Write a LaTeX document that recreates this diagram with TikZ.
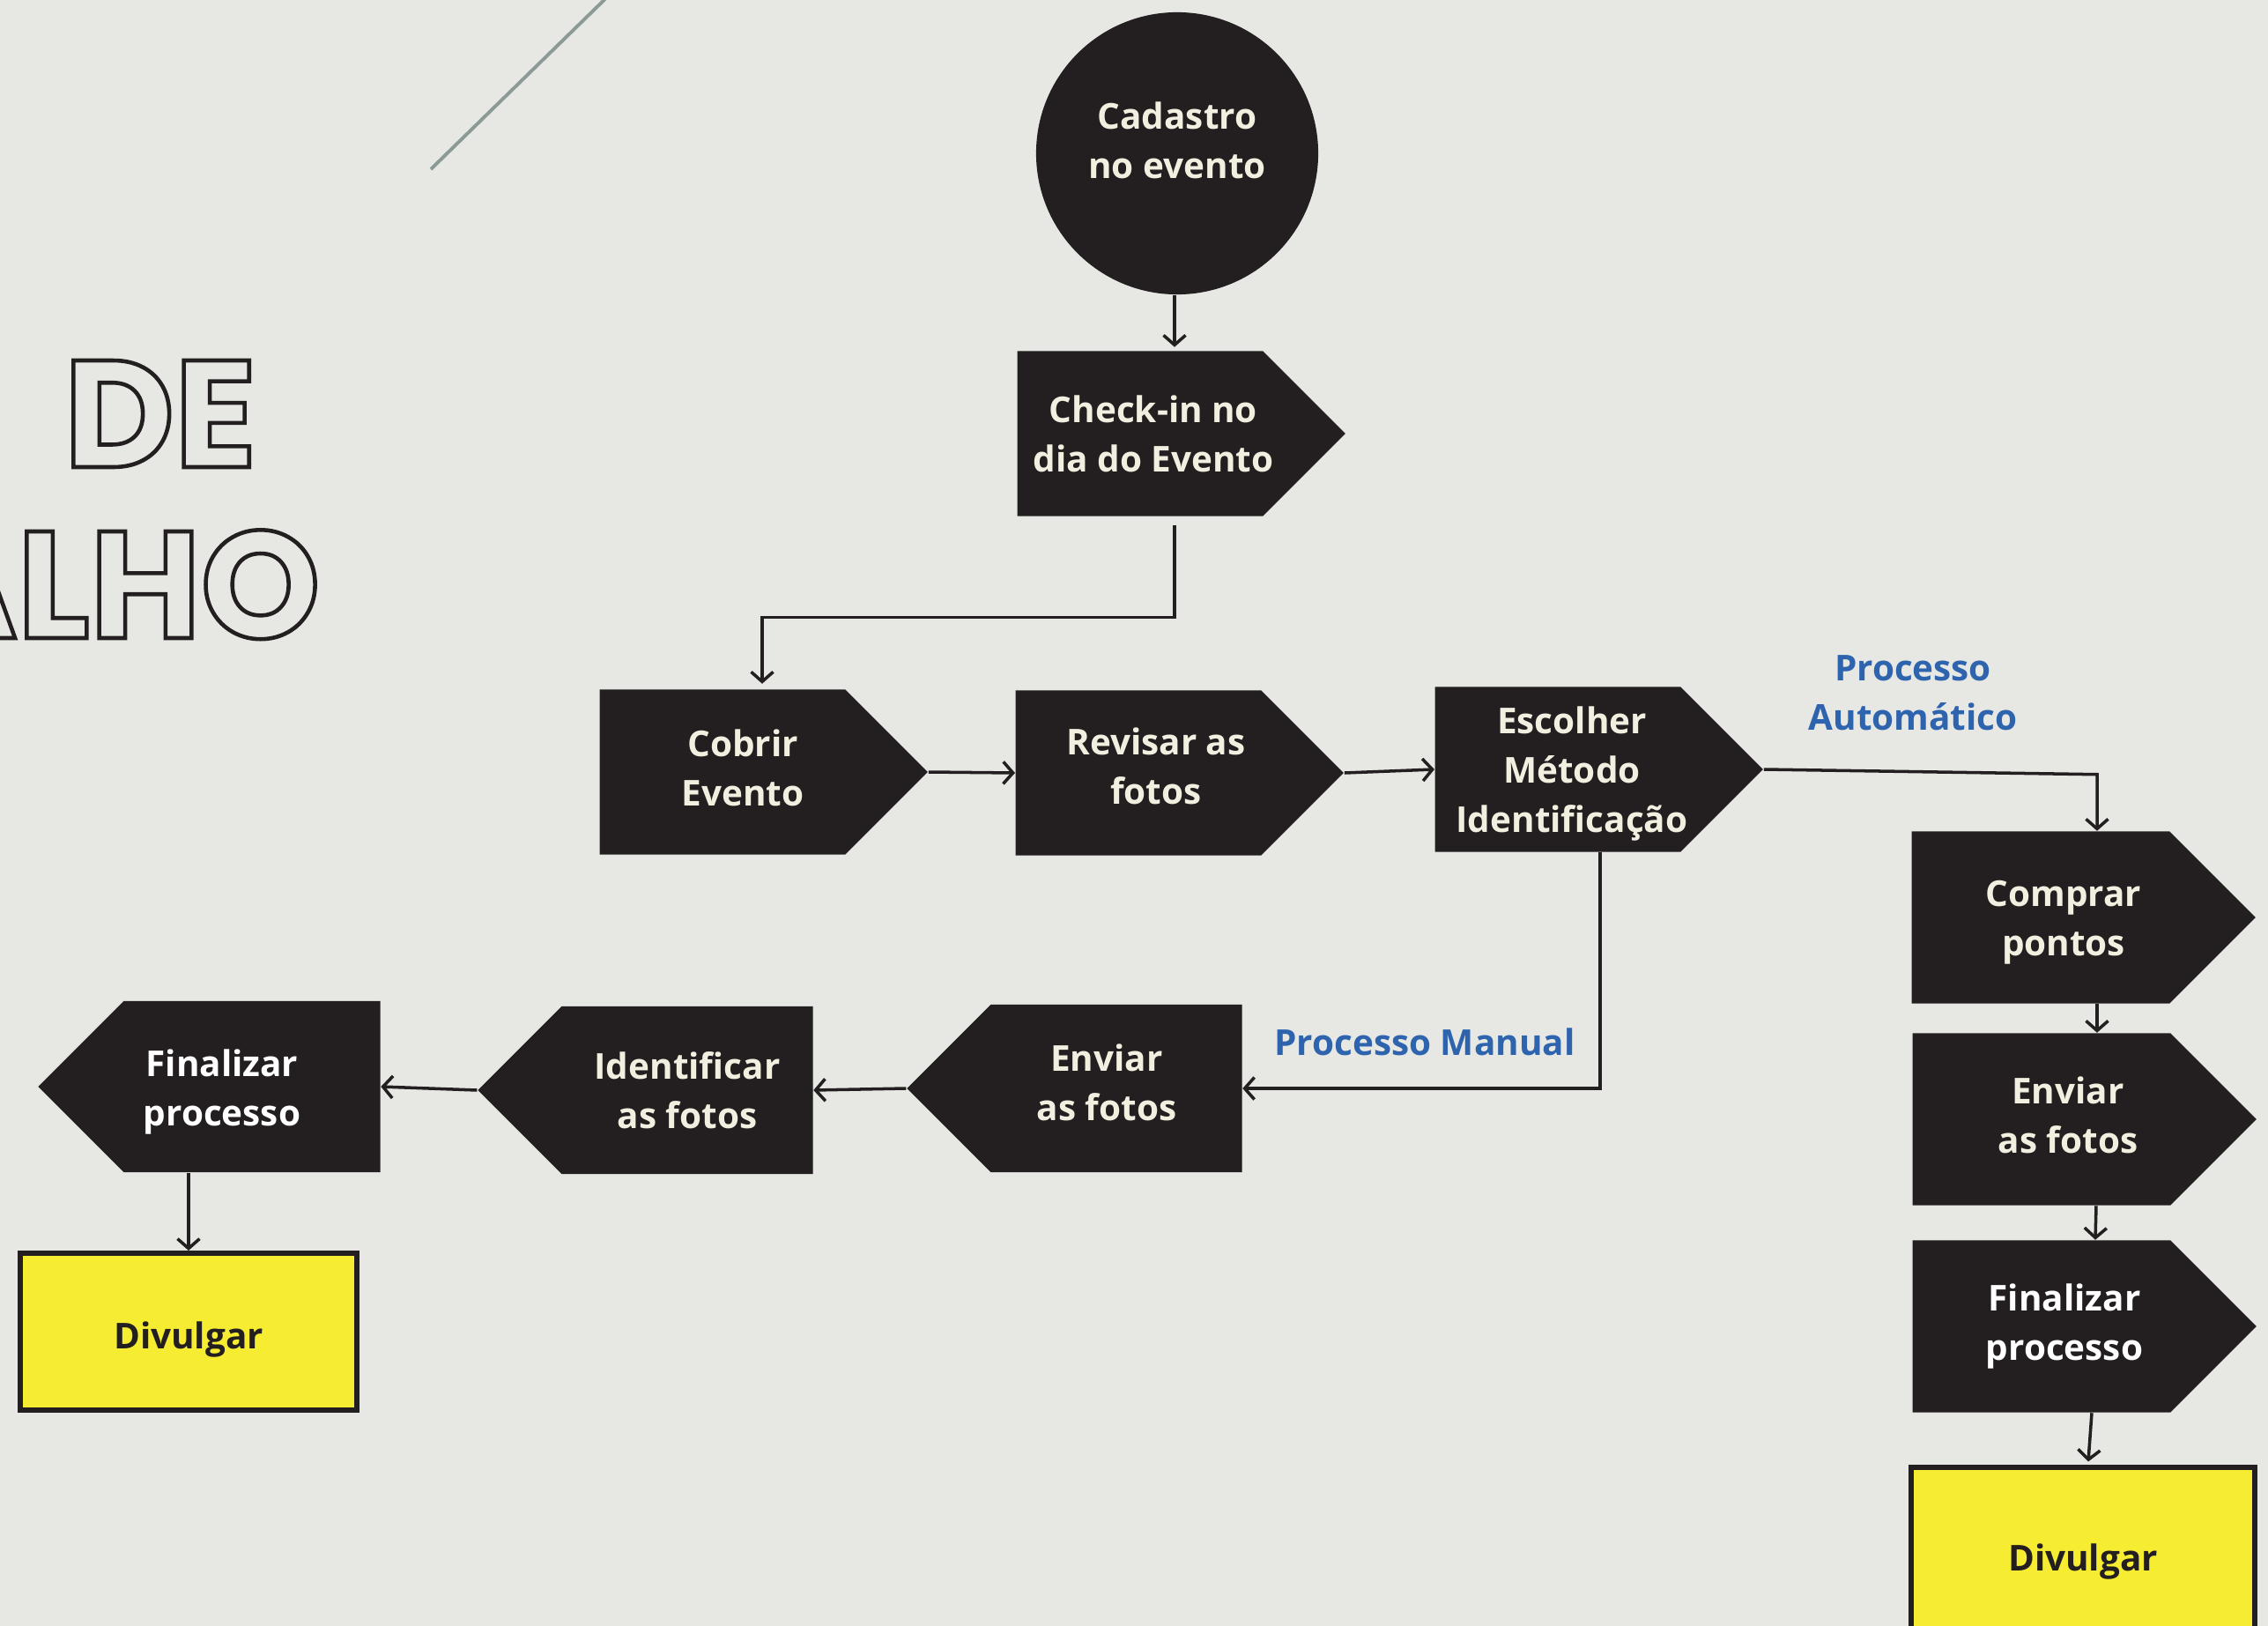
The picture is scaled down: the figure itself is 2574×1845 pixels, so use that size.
\documentclass[tikz,border=0pt]{standalone}
\usepackage{fontspec}
\setmainfont{Open Sans}
\newfontfamily\titulofont{Poppins}
\usetikzlibrary{shapes.symbols, arrows.meta, positioning, calc}

\definecolor{fundo}{HTML}{E7E8E4}
\definecolor{tinta}{HTML}{231F20}
\definecolor{creme}{HTML}{F0EFE0}
\definecolor{amarelo}{HTML}{F6EC31}
\definecolor{azul}{HTML}{2E63AE}
\definecolor{risco}{HTML}{8B9A97}

\newcommand{\vazado}[1]{\special{pdf:literal direct 1 Tr 1.3 w}#1\special{pdf:literal direct 0 Tr}}

\tikzset{
  etapa/.style={signal, signal pointer angle=90, fill=tinta,
    minimum width=3.72cm, minimum height=1.87cm, inner sep=0pt},
  direita/.style={etapa, signal to=east},
  esquerda/.style={etapa, signal to=west},
  texto/.style={text=creme, font=\bfseries\fontsize{11.5}{15.9}\selectfont, align=center, inner sep=0pt},
  divulga/.style={draw=tinta, line width=1.7pt, fill=amarelo, text=tinta,
    font=\bfseries\fontsize{11.5}{15.9}\selectfont, text height=0.48cm, text depth=0.09cm,
    minimum width=3.82cm, minimum height=1.78cm},
  seta/.style={draw=tinta, line width=1pt,
    -{Straight Barb[length=0.11cm,width=0.25cm]}},
  rotulo/.style={text=azul, font=\bfseries\fontsize{11.5}{15.9}\selectfont, align=center},
  titulo/.style={font=\titulofont\bfseries\fontsize{49}{49}\selectfont, inner sep=0pt, text=tinta}
}

\begin{document}
\begin{tikzpicture}[x=0.01cm, y=-0.01cm]
    \useasboundingbox (0,0) rectangle (2574,1845);
    \clip (0,0) rectangle (2574,1845);
    \fill[fundo] (0,0) rectangle (2574,1845);

    % Title
    \draw[risco, line width=1.1pt] (489,192) -- (700,-14);
    \node[titulo, anchor=base west] (de) at (72,530) {\vazado{DE}};
    \node[titulo, anchor=base east] (alho) at (364,724) {\vazado{ALHO}};

    % Main flow
    \node[circle, fill=tinta, text=creme, minimum size=3.2cm, align=center,
      font=\bfseries\fontsize{11.5}{15.9}\selectfont, text depth=0.3cm] (cad) at (1336,174)
      {Cadastro\\no evento};
    \node[direita] (chk) at (1294,492) {};
    \node[texto] (chkt) at ($(chk)+(15,0)$) {Check-in no\\dia do Evento};
    \node[direita] (cob) at (820,876) {};
    \node[texto] (cobt) at ($(cob)+(23,-5)$) {Cobrir\\Evento};
    \node[direita] (rev) at (1292,877) {};
    \node[texto] (revt) at ($(rev)+(20,-8)$) {Revisar as\\fotos};
    \node[direita] (esc) at (1768,873) {};
    \node[texto] (esct) at ($(esc)+(16,5)$) {Escolher\\Método\\Identificação};

    % Automatic branch
    \node[direita, minimum width=3.9cm, minimum height=1.95cm] (cmp) at (2316,1041) {};
    \node[texto] (cmpt) at ($(cmp)+(26,6)$) {Comprar\\pontos};
    \node[direita, minimum width=3.9cm, minimum height=1.95cm] (env2) at (2317,1270) {};
    \node[texto] (env2t) at ($(env2)+(30,-5)$) {Enviar\\as fotos};
    \node[direita, minimum width=3.9cm, minimum height=1.95cm] (fin2) at (2317,1505) {};
    \node[texto, text=white] (fin2t) at ($(fin2)+(26,0)$) {Finalizar\\processo};
    \node[divulga, minimum width=3.89cm, minimum height=1.95cm] (div2) at (2364,1763) {Divulgar};

    % Manual branch
    \node[esquerda, minimum width=3.8cm, minimum height=1.9cm] (env1) at (1267,1235) {};
    \node[texto] (env1t) at ($(env1)+(-11,-7)$) {Enviar\\as fotos};
    \node[esquerda, minimum width=3.8cm, minimum height=1.9cm] (idf) at (780,1237) {};
    \node[texto] (idft) at (idf) {Identificar\\as fotos};
    \node[esquerda, minimum width=3.88cm, minimum height=1.94cm] (fin1) at (286,1233) {};
    \node[texto, text=white] (fin1t) at ($(fin1)+(-34,6)$) {Finalizar\\processo};
    \node[divulga] (div1) at (214,1511) {Divulgar};

    \node[rotulo] (auto) at (2171,786) {Processo\\Automático};
    \node[rotulo] (manual) at (1617,1182) {Processo Manual};

    % Connectors
    \draw[seta] ($(cad.south)+(-3,0)$) -- ($(cad.south |- chk.north)+(-3,-4)$);
    \draw[seta] ([yshift=-0.1cm]$(cad.south |- chk.south)+(-3,0)$) -- ++(0,104) -| ($(cob.north)+(45,-6)$);
    \draw[seta] (cob.east) -- (rev.west);
    \draw[seta] (rev.east) -- (esc.west);
    \draw[seta] (esc.east) -- ($(cmp.north)+(64,-64)$) -- ($(cmp.north)+(64,0)$);
    \draw[seta] ($(cmp.south)+(64,0)$) -- ($(env2.north)+(63,0)$);
    \draw[seta] ($(env2.south)+(62,0)$) -- ($(fin2.north)+(61,0)$);
    \draw[seta] ($(fin2.south)+(57,0)$) -- ($(div2.north)+(6,-4)$);
    \draw[seta] ($(esc.south)+(48,0)$) |- (env1.east);
    \draw[seta] (env1.west) -- (idf.east);
    \draw[seta] (idf.west) -- (fin1.east);
    \draw[seta] (fin1.south -| div1.north) -- (div1.north);
\end{tikzpicture}
\end{document}
